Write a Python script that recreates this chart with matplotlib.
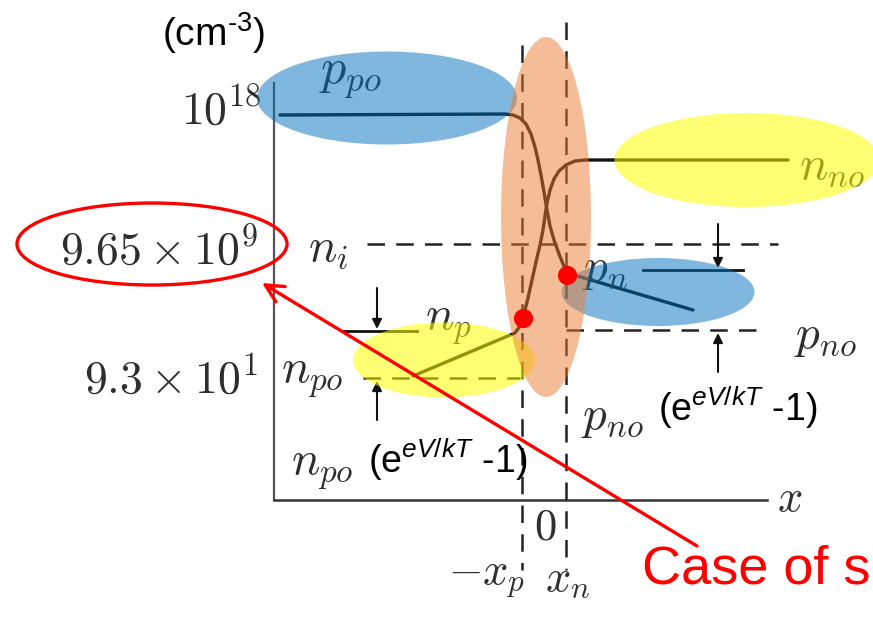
import matplotlib.pyplot as plt
from matplotlib.patches import Ellipse

plt.rcParams['font.family'] = ['Liberation Sans', 'DejaVu Sans']
plt.rcParams['mathtext.fontset'] = 'custom'
plt.rcParams['mathtext.rm'] = 'Liberation Sans'
plt.rcParams['mathtext.it'] = 'Liberation Sans:italic'

# Levels of the carrier profile (drawing units, y grows downward)
y_ppo = 115
y_nno = 160
y_ni = 244
y_pn_edge = 270
y_np_edge = 331
y_pno = 330
y_npo = 378
x_axis_y = 500
y_axis_x = 274
x_minus_xp = 522
x_xn = 566

# Hole profile: p_po on the p side, through the junction, down to p_n on the n side
hole_x = [280, 505, 513, 520, 526, 531, 535, 538, 541, 544, 547, 550, 554, 559, 563, 567, 693]
hole_y = [115, 114, 115, 118, 124, 134, 147, 160, 175, 192, 210, 226, 240, 254, 264, 273, 310]

# Electron profile: n_no on the n side, through the junction, down to n_p on the p side
elec_x = [788, 597, 585, 575, 566, 559, 554, 550, 547, 545, 543, 540, 536, 532, 528, 524, 520, 515, 413]
elec_y = [160, 160, 160, 161, 165, 171, 179, 190, 203, 216, 230, 245, 262, 280, 298, 314, 326, 333, 376]

# Injected minority densities at the depletion edges
dot_x = [523, 567]
dot_y = [318, 275]

fig = plt.figure(figsize=(8.73, 6.2), dpi=100)
ax = fig.add_axes([0, 0, 1, 1])
ax.set_xlim(0, 873)
ax.set_ylim(620, 0)
ax.axis('off')

ink = '#2e2e2e'
serif = dict(math_fontfamily='cm', color=ink, ha='center', va='center')
serif_r = dict(math_fontfamily='cm', color=ink, ha='right', va='baseline')

# axes
ax.plot([y_axis_x, y_axis_x], [83, x_axis_y], color='#555555', lw=1.6)
ax.plot([y_axis_x, 767], [x_axis_y, x_axis_y], color='#333333', lw=1.8)

# dashed reference levels and junction edges
dash = dict(color='#222222', lw=1.8, linestyle=(0, (7, 4.5)))
ax.plot([367, 778], [y_ni, y_ni], **dash)
ax.plot([363, 520], [y_npo, y_npo], **dash)
ax.plot([x_xn, 762], [y_pno, y_pno], **dash)
ax.plot([x_minus_xp, x_minus_xp], [45, 570], **dash)
ax.plot([x_xn, x_xn], [22, 570], **dash)

# short level markers at the edges
ax.plot([343, 417], [y_np_edge, y_np_edge], color='#111111', lw=2)
ax.plot([643, 743], [y_pn_edge, y_pn_edge], color='#111111', lw=2)

# profiles
ax.plot(hole_x, hole_y, color='#111111', lw=2.4, solid_capstyle='round')
ax.plot(elec_x, elec_y, color='#111111', lw=2.4, solid_capstyle='round')

# (e^{eV/kT}-1) arrows
arrow = dict(arrowstyle='-|>', color='#111111', lw=1.5, mutation_scale=14, shrinkA=0, shrinkB=0)
ax.annotate('', xy=(377, y_np_edge - 2), xytext=(377, 288), arrowprops=arrow)
ax.annotate('', xy=(377, y_npo + 3), xytext=(377, 420), arrowprops=arrow)
ax.annotate('', xy=(718, y_pn_edge - 2), xytext=(718, 224), arrowprops=arrow)
ax.annotate('', xy=(718, y_pno + 3), xytext=(718, 372), arrowprops=arrow)

# labels
ax.text(262, 124, r'$10^{18}$', fontsize=33, **serif_r)
ax.text(258, 264, r'$9.65\times10^{9}$', fontsize=33, **serif_r)
ax.text(258, 393, r'$9.3\times10^{1}$', fontsize=33, **serif_r)
ax.text(350, 78, r'$p_{po}$', fontsize=36, **serif)
ax.text(832, 167, r'$n_{no}$', fontsize=34, **serif)
ax.text(328, 249, r'$n_i$', fontsize=34, **serif)
ax.text(448, 325, r'$n_p$', fontsize=34, **serif)
ax.text(605, 270, r'$p_n$', fontsize=34, **serif)
ax.text(825, 337, r'$p_{no}$', fontsize=34, **serif)
ax.text(612, 418, r'$p_{no}$', fontsize=34, **serif)
ax.text(312, 378, r'$n_{po}$', fontsize=34, **serif)
ax.text(322, 470, r'$n_{po}$', fontsize=34, **serif)
ax.text(545, 528, r'$0$', fontsize=32, **serif)
ax.text(487, 580, r'$-x_p$', fontsize=32, **serif)
ax.text(568, 580, r'$x_n$', fontsize=32, **serif)
ax.text(790, 500, r'$x$', fontsize=32, **serif)

ax.text(213, 33, r'(cm$^{\text{-3}}$)', fontsize=28, ha='center', va='center', color='black')
ax.text(738, 408, r'(e$^{eV/kT}$ -1)', fontsize=27, ha='center', va='center', color='black')
ax.text(448, 460, r'(e$^{eV/kT}$ -1)', fontsize=27, ha='center', va='center', color='black')

# highlight regions
ax.add_patch(Ellipse((387, 98), 260, 93, color='#0070c0', alpha=0.5, lw=0, zorder=5))
ax.add_patch(Ellipse((658, 292), 193, 68, color='#0070c0', alpha=0.5, lw=0, zorder=5))
ax.add_patch(Ellipse((747, 160), 265, 94, color='#ffff00', alpha=0.55, lw=0, zorder=5))
ax.add_patch(Ellipse((444, 360), 182, 75, color='#ffff00', alpha=0.55, lw=0, zorder=5))
ax.add_patch(Ellipse((546, 217), 90, 360, color='#ed7d31', alpha=0.5, lw=0, zorder=6))

# intrinsic density call-out
ax.add_patch(Ellipse((152, 244), 270, 82, fill=False, edgecolor='red', lw=2.4, zorder=7))
ax.annotate('', xy=(262, 283), xytext=(697, 546),
            arrowprops=dict(arrowstyle='->', color='red', lw=2.4, mutation_scale=32, shrinkA=0, shrinkB=0),
            zorder=7)
ax.text(642, 570, 'Case of s', fontsize=39, color='red', ha='left', va='center', zorder=7)

ax.scatter(dot_x, dot_y, s=190, color='red', zorder=8, linewidths=0)

fig.savefig('out.png', dpi=100)
